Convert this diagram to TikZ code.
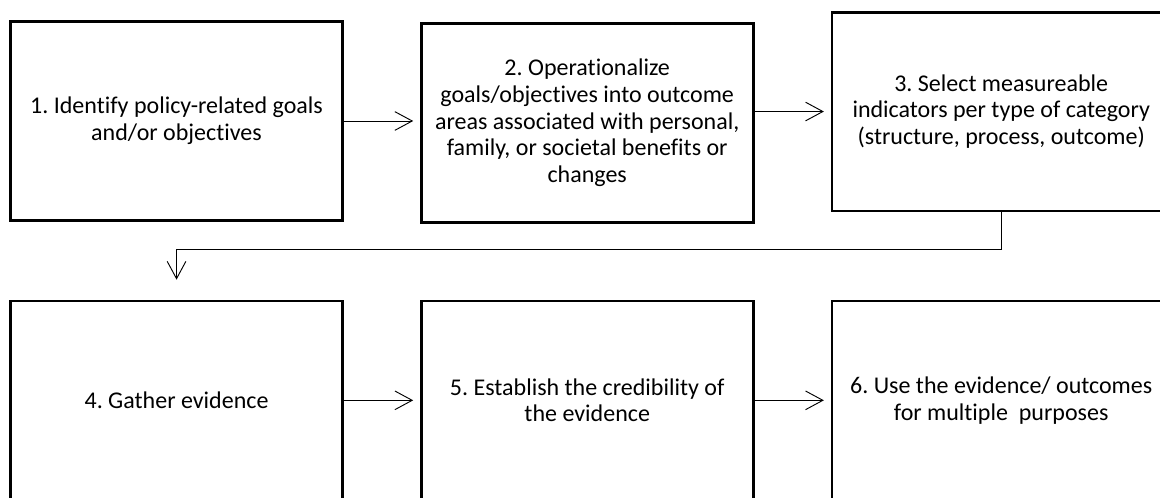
\documentclass[tikz,border=0pt]{standalone}
\usepackage{fontspec}
\setmainfont{Carlito}[Ligatures=NoCommon]
\usetikzlibrary{arrows.meta, positioning}

\begin{document}
\frenchspacing
\begin{tikzpicture}[
    node distance=57pt,
    box/.style={rectangle, draw, line width=2pt, minimum width=249pt, minimum height=149pt, align=center, inner sep=0pt, font=\fontsize{18}{20}\selectfont},
    wide/.style={minimum width=254pt},
    arrow/.style={-{Straight Barb[length=13pt, width=14pt]}, line width=0.7pt, shorten >=5pt}
]
    \path[use as bounding box, clip] (0,0) rectangle (870pt,-373.5pt);

    % first row
    \node[box] (identify) at (132.4pt,-90.75pt) {1. Identify policy-related goals\\and/or objectives};
    \node[box, right=of identify, yshift=-1.5pt] (operationalize) {2. Operationalize\\goals/objectives into outcome\\areas associated with personal,\\family, or societal benefits or\\changes};
    \node[box, wide, right=of operationalize, yshift=8.6pt] (select) {3. Select measureable\\indicators per type of category\\(structure, process, outcome)};

    % second row
    \node[box, below=58.5pt of identify] (gather) {4. Gather evidence};
    \node[box, right=of gather] (establish) {5. Establish the credibility of\\the evidence};
    \node[box, wide, right=of establish] (use) {6. Use the evidence/ outcomes\\for multiple\ \ purposes};

    \draw[arrow] (identify.east) -- (identify.east -| operationalize.west);
    \draw[arrow] (select.west -| operationalize.east) -- (select.west);
    \draw[arrow, shorten >=15pt] (select.south) -- ++(0,-27.75pt) -| (gather.north);
    \draw[arrow] (gather) -- (establish);
    \draw[arrow] (establish) -- (use);
\end{tikzpicture}
\end{document}
